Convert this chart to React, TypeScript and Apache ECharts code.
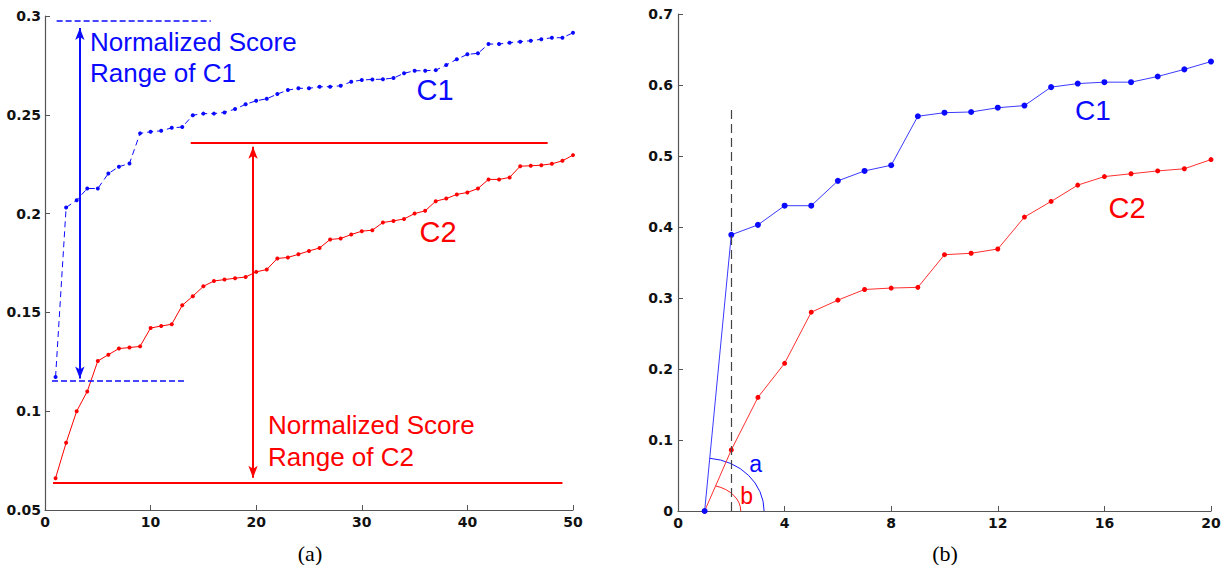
import React, { useEffect, useRef } from "react";
import * as echarts from "echarts";

// ---------- data ----------
const leftRank = Array.from({ length: 50 }, (_, i) => i + 1);
const leftC1 = [
  0.1173, 0.2031, 0.2068, 0.2127, 0.2127, 0.2203, 0.2237, 0.2254, 0.2406, 0.2414,
  0.2419, 0.2434, 0.2438, 0.2498, 0.2506, 0.2506, 0.2512, 0.2529, 0.2553, 0.2571,
  0.2581, 0.2605, 0.2625, 0.2634, 0.2634, 0.2642, 0.2642, 0.2647, 0.2667, 0.2676,
  0.2679, 0.268, 0.2686, 0.271, 0.2723, 0.2723, 0.2726, 0.2752, 0.2781, 0.2806,
  0.2811, 0.2858, 0.2858, 0.2865, 0.287, 0.2875, 0.2882, 0.289, 0.289, 0.2915,
];
const leftC2 = [
  0.0661, 0.084, 0.1, 0.11, 0.1254, 0.1286, 0.1317, 0.1322, 0.1328, 0.1421,
  0.1431, 0.144, 0.1536, 0.1582, 0.1632, 0.1659, 0.1666, 0.1673, 0.1679, 0.1705,
  0.1717, 0.1773, 0.1778, 0.1794, 0.1811, 0.1826, 0.1869, 0.1874, 0.1894, 0.1911,
  0.1916, 0.1955, 0.1963, 0.1973, 0.2, 0.2014, 0.2063, 0.2076, 0.2097, 0.2107,
  0.2127, 0.2173, 0.2173, 0.2183, 0.224, 0.2242, 0.2245, 0.2252, 0.2267, 0.2296,
];
const rightRank = Array.from({ length: 20 }, (_, i) => i + 1);
const rightC1 = [
  0, 0.389, 0.403, 0.43, 0.43, 0.465, 0.479, 0.487, 0.556, 0.561,
  0.562, 0.568, 0.571, 0.597, 0.602, 0.604, 0.604, 0.612, 0.622, 0.633,
];
const rightC2 = [
  0, 0.086, 0.16, 0.208, 0.28, 0.297, 0.312, 0.314, 0.315, 0.361,
  0.363, 0.369, 0.414, 0.436, 0.459, 0.471, 0.475, 0.479, 0.482, 0.495,
];

// annotation ranges (data units)
const c1RangeTop = 0.2976;
const c1RangeBottom = 0.1155;
const c2RangeTop = 0.236;
const c2RangeBottom = 0.0636;

const BLUE = "#0a0aff";
const RED = "#ff0000";
const AXIS = "#555555";
const LABEL_FONT = "DejaVu Sans";

const axisCommon = {
  axisLine: { show: true, lineStyle: { color: AXIS, width: 1.2 } },
  axisTick: { show: true, inside: true, length: 5, lineStyle: { color: AXIS } },
  splitLine: { show: false },
  axisLabel: {
    color: "#111",
    fontFamily: LABEL_FONT,
    fontWeight: "bold" as const,
    fontSize: 14,
  },
};

export default function App() {
  const ref = useRef<HTMLDivElement>(null);
  useEffect(() => {
    if (!ref.current) return;
    const chart = echarts.init(ref.current, null, { renderer: "svg" });
    const fmt = (v: number) => String(parseFloat(v.toFixed(2)));
    const option: any = {
      animation: false,
      grid: [
        { left: 45, top: 16, width: 528, height: 494 },
        { left: 678, top: 14, width: 533, height: 497 },
      ],
      xAxis: [
        {
          ...axisCommon, type: "value", gridIndex: 0, min: 0, max: 50, interval: 10,
          axisLabel: { ...axisCommon.axisLabel, margin: 5, formatter: fmt },
        },
        {
          ...axisCommon, type: "value", gridIndex: 1, min: 0, max: 20, interval: 4,
          axisLabel: { ...axisCommon.axisLabel, margin: 5, formatter: fmt },
        },
      ],
      yAxis: [
        {
          ...axisCommon, type: "value", gridIndex: 0, min: 0.05, max: 0.3, interval: 0.05,
          axisLabel: { ...axisCommon.axisLabel, margin: 4, formatter: fmt },
        },
        {
          ...axisCommon, type: "value", gridIndex: 1, min: 0, max: 0.7, interval: 0.1,
          axisLabel: { ...axisCommon.axisLabel, margin: 5, formatter: fmt },
        },
      ],
      series: [
        {
          name: "C1 (a)", type: "line", xAxisIndex: 0, yAxisIndex: 0,
          data: leftRank.map((r, i) => [r, leftC1[i]]),
          symbol: "circle", symbolSize: 4,
          itemStyle: { color: BLUE },
          lineStyle: { color: BLUE, width: 1, type: [6, 4] },
          markLine: {
            silent: true, animation: false,
            label: { show: false },
            data: [
              [
                { coord: [1.1, c1RangeTop], symbol: "none", lineStyle: { color: BLUE, width: 1.5, type: [6, 3] } },
                { coord: [15.7, c1RangeTop], symbol: "none" },
              ],
              [
                { coord: [0.66, c1RangeBottom], symbol: "none", lineStyle: { color: BLUE, width: 1.5, type: [6, 3] } },
                { coord: [13.3, c1RangeBottom], symbol: "none" },
              ],
              [
                { coord: [3.3, 0.1166], symbol: "arrow", symbolSize: [7, 12], lineStyle: { color: BLUE, width: 2, type: "solid" } },
                { coord: [3.3, 0.2939], symbol: "arrow", symbolSize: [7, 12] },
              ],
            ],
          },
        },
        {
          name: "C2 (a)", type: "line", xAxisIndex: 0, yAxisIndex: 0,
          data: leftRank.map((r, i) => [r, leftC2[i]]),
          symbol: "circle", symbolSize: 4,
          itemStyle: { color: RED },
          lineStyle: { color: RED, width: 1 },
          markLine: {
            silent: true, animation: false,
            label: { show: false },
            data: [
              [
                { coord: [13.8, c2RangeTop], symbol: "none", lineStyle: { color: RED, width: 2, type: "solid" } },
                { coord: [47.6, c2RangeTop], symbol: "none" },
              ],
              [
                { coord: [0.76, c2RangeBottom], symbol: "none", lineStyle: { color: RED, width: 2, type: "solid" } },
                { coord: [49, c2RangeBottom], symbol: "none" },
              ],
              [
                { coord: [19.7, 0.0663], symbol: "arrow", symbolSize: [7, 12], lineStyle: { color: RED, width: 2, type: "solid" } },
                { coord: [19.7, 0.2338], symbol: "arrow", symbolSize: [7, 12] },
              ],
            ],
          },
        },
        {
          name: "C1 (b)", type: "line", xAxisIndex: 1, yAxisIndex: 1,
          data: rightRank.map((r, i) => [r, rightC1[i]]),
          symbol: "circle", symbolSize: 6,
          itemStyle: { color: BLUE },
          lineStyle: { color: "#3a3aff", width: 1 },
          z: 3,
          markLine: {
            silent: true, animation: false,
            label: { show: false },
            symbol: "none",
            data: [
              [
                { coord: [2, 0], lineStyle: { color: "#444", width: 1.2, type: [9, 5] } },
                { coord: [2, 0.569] },
              ],
            ],
          },
        },
        {
          name: "C2 (b)", type: "line", xAxisIndex: 1, yAxisIndex: 1,
          data: rightRank.map((r, i) => [r, rightC2[i]]),
          symbol: "circle", symbolSize: 5,
          itemStyle: { color: RED },
          lineStyle: { color: "#ff3030", width: 1 },
          z: 2,
        },
      ],
    };
    chart.setOption(option);

    // angle arcs at the origin point of (b)
    const c = chart.convertToPixel({ gridIndex: 1 } as any, [rightRank[0], rightC1[0]]) as number[];
    const pB = chart.convertToPixel({ gridIndex: 1 } as any, [rightRank[1], rightC1[1]]) as number[];
    const pR = chart.convertToPixel({ gridIndex: 1 } as any, [rightRank[1], rightC2[1]]) as number[];
    const aEnd = chart.convertToPixel({ gridIndex: 1 } as any, [3.23, 0]) as number[];
    const bEnd = chart.convertToPixel({ gridIndex: 1 } as any, [2.355, 0]) as number[];
    const rA = aEnd[0] - c[0];
    const rB = bEnd[0] - c[0];
    const syA = 0.89;
    const syB = 0.73;
    const angA = Math.atan2((c[1] - pB[1]) / syA, pB[0] - c[0]);
    const angB = Math.atan2((c[1] - pR[1]) / syB, pR[0] - c[0]);

    const textFont = "26px 'Liberation Sans', Arial, sans-serif";
    const bigFont = "29px 'Liberation Sans', Arial, sans-serif";
    const txt = (x: number, y: number, text: string, fill: string, font: string, align = "left") => ({
      type: "text", x, y, silent: true,
      style: { text, fill, font, textAlign: align, textVerticalAlign: "middle" },
    });

    chart.setOption({
      graphic: [
        {
          type: "arc", x: c[0], y: c[1], scaleY: syA, silent: true,
          shape: { cx: 0, cy: 0, r: rA, startAngle: -angA, endAngle: 0, clockwise: true },
          style: { stroke: BLUE, lineWidth: 1, fill: "none", strokeNoScale: true },
        },
        {
          type: "arc", x: c[0], y: c[1], scaleY: syB, silent: true,
          shape: { cx: 0, cy: 0, r: rB, startAngle: -angB, endAngle: 0, clockwise: true },
          style: { stroke: RED, lineWidth: 1, fill: "none", strokeNoScale: true },
        },
        txt(c[0] + 51, c[1] - 47, "a", BLUE, "23px 'Liberation Sans', Arial, sans-serif", "center"),
        txt(c[0] + 42, c[1] - 15, "b", RED, "23px 'Liberation Sans', Arial, sans-serif", "center"),
        txt(90, 42, "Normalized Score", BLUE, textFont),
        txt(90, 73, "Range of C1", BLUE, textFont),
        txt(268, 425, "Normalized Score", RED, textFont),
        txt(268, 457, "Range of C2", RED, textFont),
        txt(435, 90, "C1", BLUE, bigFont, "center"),
        txt(438, 232, "C2", RED, bigFont, "center"),
        txt(1093, 110, "C1", BLUE, "28px 'Liberation Sans', Arial, sans-serif", "center"),
        txt(1127, 208, "C2", RED, "29px 'Liberation Sans', Arial, sans-serif", "center"),
        txt(310, 553, "(a)", "#000", "22px 'Liberation Serif', 'Times New Roman', serif", "center"),
        txt(945, 553, "(b)", "#000", "22px 'Liberation Serif', 'Times New Roman', serif", "center"),
      ],
    });

    return () => chart.dispose();
  }, []);

  return (
    <div
      ref={ref}
      style={{ position: "absolute", left: 0, top: 0, width: 1225, height: 565, background: "#fff" }}
    />
  );
}
